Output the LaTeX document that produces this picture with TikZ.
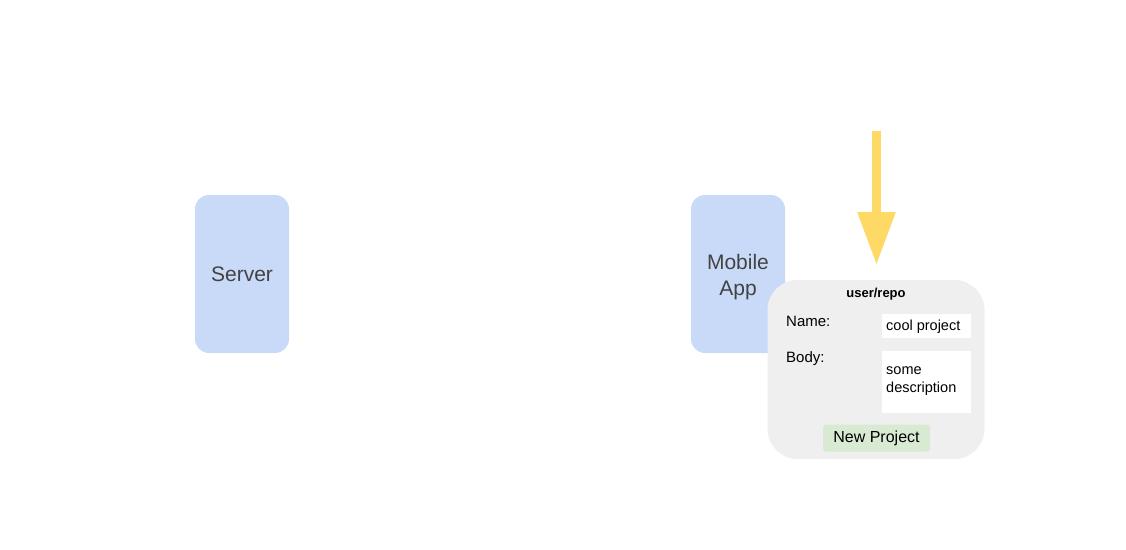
\documentclass[tikz,border=0pt]{standalone}
\usepackage{fontspec}
\setmainfont{Liberation Sans}
\usetikzlibrary{arrows.meta,positioning}
\definecolor{boxblue}{HTML}{C9DAF8}
\definecolor{boxtext}{HTML}{434343}
\definecolor{panelgray}{HTML}{EFEFEF}
\definecolor{btngreen}{HTML}{D9EAD3}
\definecolor{arrowyellow}{HTML}{FFD966}
\begin{document}
\begin{tikzpicture}[x=1pt,y=-1pt,
        box/.style={fill=boxblue,rounded corners=14pt,minimum width=94pt,minimum height=158pt,
            text=boxtext,align=center,font=\fontsize{21}{26}\selectfont,inner sep=0pt},
        panel/.style={fill=panelgray,rounded corners=30pt,minimum width=217pt,minimum height=179pt,inner sep=0pt},
        label/.style={anchor=west,inner sep=0pt,font=\fontsize{15}{18}\selectfont},
        field/.style={fill=white,anchor=north west,minimum width=89pt,inner sep=0pt},
        fieldtext/.style={anchor=west,inner sep=0pt,align=left,font=\fontsize{14.5}{18}\selectfont}]
                \useasboundingbox (0,0) rectangle (1126,549);
                \node[box](server) at (242,274){Server};
                \node[box](mobile) at (738,274){\rule{0pt}{21pt}Mobile\\App};
                \node[panel](form) at (876,369.5){};
                \node[font=\bfseries\fontsize{13}{15}\selectfont](title) at (876,294){user/repo};
                \node[label](namelbl) at (786,321.5){Name:};
                \node[label](bodylbl) at (786,358.5){Body:};
                \node[field,minimum height=24pt](namefield) at (882,314){};
                \node[fieldtext](nameval) at (886,327){cool project};
                \node[field,minimum height=62pt](bodyfield) at (882,351){};
                \node[fieldtext](bodyval) at (886,381){some\\description};
                \node[fill=btngreen,rounded corners=3pt,minimum width=107pt,minimum height=27pt,
                    font=\fontsize{16}{18}\selectfont](newbtn) at (876.5,438){New Project};
                \coordinate(arrtop) at (876.5,131);
                \coordinate(arrtip) at (876.5,265);
                \draw[arrowyellow,line width=9pt,-{Triangle[width=36pt,length=53pt]}](arrtop) -- (arrtip);
            \end{tikzpicture}
\end{document}
